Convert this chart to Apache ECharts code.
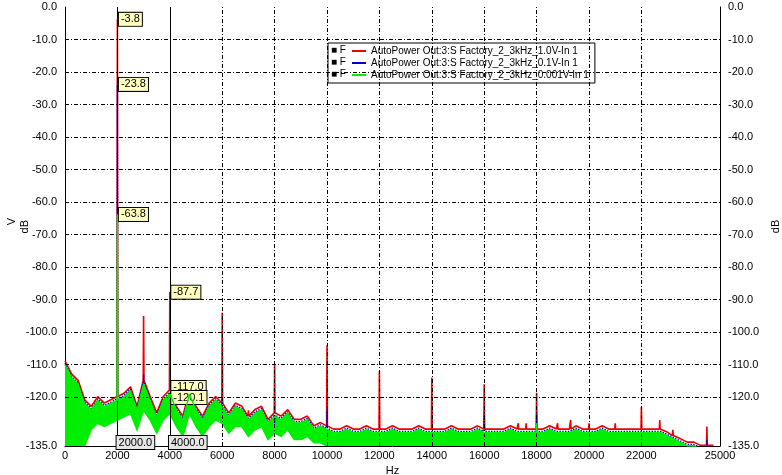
<!DOCTYPE html>
<html><head><meta charset="utf-8">
<script src="https://cdn.jsdelivr.net/npm/echarts@6/dist/echarts.min.js"></script>
<style>html,body{margin:0;padding:0;background:#fff}#c{width:782px;height:475px}</style>
</head><body><div id="c"></div>
<script>
// noise floor frequencies (Hz), step 250
const floorFreq = [];
for (let f = 0; f <= 24750; f += 250) floorFreq.push(f);
// upper edge of the noise band (dB)
const floorUpper = [-110,-114,-116,-122,-124,-121,-123,-122,-121,-120,-118,-124,-116,-121,-126,-121,-119,-124,-127,-119,
 -124,-127,-123,-121,-123,-126,-123,-124,-127,-125,-124,-128,-126,-127,-125,-128,-128,-127,-130,-129,
 -130,-131,-131,-130,-131,-131,-130,-131,-131,-131,-130,-131,-131,-131,-130,-131,-131,-131,-131,-130,
 -131,-131,-131,-130,-131,-131,-131,-131,-130,-131,-131,-131,-131,-131,-130,-131,-131,-131,-130,-131,
 -131,-131,-130,-131,-131,-131,-131,-131,-131,-131,-131,-131,-132,-133,-134,-135,-135,-136,-136,-136];
// lower edge of the noise band (dB)
const floorLower = [-135,-135,-135,-135,-130,-128,-129,-128,-127,-126,-125,-130,-124,-127,-131,-127,-125,-129,-132,-125,
 -129,-132,-129,-127,-128,-131,-129,-129,-132,-130,-129,-133,-131,-132,-130,-133,-133,-132,-134,-134,
 -135,-136,-136,-136,-136,-136,-136,-136,-136,-136,-136,-136,-136,-136,-136,-136,-136,-136,-136,-136,
 -136,-136,-136,-136,-136,-136,-136,-136,-136,-136,-136,-136,-136,-136,-136,-136,-136,-136,-136,-136,
 -136,-136,-136,-136,-136,-136,-136,-136,-136,-136,-136,-136,-136,-136,-136,-136,-136,-136,-136,-136];
// spikes: [freq, peak dB]
const redSpikes = [[2000,-3.8],[3000,-95],[4000,-87.7],[6000,-94],[7000,-124],[8000,-110],[10000,-104],[12000,-112],
 [14000,-114],[16000,-116],[17300,-128],[17600,-128],[18000,-118.6],[18800,-128],[19300,-127],[20000,-128],[21000,-128],
 [22000,-123],[22700,-127],[23200,-130],[24500,-129]];
const blueSpikes = [[2000,-23.8],[3000,-113],[4000,-120],[6000,-120],[8000,-128],[10000,-124],[16000,-125],[18000,-125],[24500,-133]];
const greenSpikes = [[2000,-63.8],[4000,-120.1],[18000,-128]];
const seriesNames = ['AutoPower Out:3:S Factory_2_3kHz_1.0V-In 1','AutoPower Out:3:S Factory_2_3kHz_0.1V-In 1','AutoPower Out:3:S Factory_2_3kHz_0.001V-In 1'];
const seriesColors = ['#ee0000','#0000cc','#00ee00'];
const yTicks = [0,-10,-20,-30,-40,-50,-60,-70,-80,-90,-100,-110,-120,-135];
const xGrid = [2000,4000,6000,8000,10000,12000,14000,16000,18000,20000,22000];
const cursorLabels = [[2000,-3.8],[2000,-23.8],[2000,-63.8],[4000,-87.7],[4000,-117.0],[4000,-120.1]];

function traceWith(spikes, offset){
  const pts = floorFreq.map((f,i)=>[f, floorUpper[i]+offset]);
  spikes.forEach(([f,v])=>{
    const i = Math.round(f/250); const base = floorUpper[Math.min(i,floorUpper.length-1)]+offset;
    pts.push([f-15,base],[f,v],[f+15,base]);
  });
  pts.sort((a,b)=>a[0]-b[0]);
  return pts.map(p=>[p[0],Math.max(p[1],-136)]);
}
const font = 'Liberation Sans';
const chart = echarts.init(document.getElementById('c'));
const yLbl = {fontFamily:font,fontSize:11,color:'#000',formatter:v=>yTicks.includes(v)?v.toFixed(1):''};
const bandData = floorFreq.map((f,i)=>[f,floorUpper[i],floorLower[i]]);
chart.setOption({
  animation:false,
  grid:{left:65,right:62,top:7,bottom:29,outerBoundsMode:'none',containLabel:false},
  xAxis:{type:'value',min:0,max:25000,interval:2000,name:'Hz',nameLocation:'middle',nameGap:18,
    nameTextStyle:{fontFamily:font,fontSize:11,color:'#000'},
    axisLine:{onZero:false,lineStyle:{color:'#000'}},axisTick:{show:false},splitLine:{show:false},
    axisLabel:{fontFamily:font,fontSize:11,color:'#000',margin:4,showMaxLabel:true,formatter:v=>v===24000?'':String(v)}},
  yAxis:[
    {type:'value',min:-135,max:0,interval:5,position:'left',
     axisLine:{show:true,lineStyle:{color:'#000'}},axisTick:{show:false},splitLine:{show:false},axisLabel:yLbl},
    {type:'value',min:-135,max:0,interval:5,position:'right',name:'dB',nameLocation:'middle',nameGap:40,nameRotate:90,
     nameTextStyle:{fontFamily:font,fontSize:11,color:'#000'},
     axisLine:{show:true,lineStyle:{color:'#000'}},axisTick:{show:false},splitLine:{show:false},axisLabel:yLbl}
  ],
  legend:{left:328,top:43,orient:'vertical',itemGap:2,itemWidth:14,itemHeight:2,backgroundColor:'#fff',
    borderColor:'#000',borderWidth:1,padding:[3,6,3,24],
    textStyle:{fontFamily:font,fontSize:10,color:'#000'},
    data:seriesNames.map((n,i)=>({name:n,icon:'rect',itemStyle:{color:seriesColors[i]}}))},
  graphic:[
    ...[0,1,2].map(i=>({type:'text',left:331,top:45+i*12,z:100,style:{text:'■ F',font:'10px Liberation Sans',fill:'#000'}})),
    {type:'text',left:6,top:218,rotation:Math.PI/2,style:{text:'V',font:'11px Liberation Sans',fill:'#000'}},
    {type:'text',left:19,top:220,rotation:Math.PI/2,style:{text:'dB',font:'11px Liberation Sans',fill:'#000'}}
  ],
  series:[
    {name:'grid',type:'line',data:[],silent:true,z:1,
     markLine:{symbol:'none',silent:true,label:{show:false},lineStyle:{color:'#000',type:[4,2,1,2],width:1},
       data:[...yTicks.filter(v=>v!==0&&v!==-135).map(v=>({yAxis:v})),...xGrid.map(v=>({xAxis:v}))]}},
    {name:seriesNames[0],type:'line',data:traceWith(redSpikes,1.2),showSymbol:false,lineStyle:{color:seriesColors[0],width:1.6},itemStyle:{color:seriesColors[0]}},
    {name:seriesNames[1],type:'line',data:traceWith(blueSpikes,0.5),showSymbol:false,lineStyle:{color:seriesColors[1],width:1.4,type:'dotted'},itemStyle:{color:seriesColors[1]}},
    {name:seriesNames[2],type:'custom',z:3,itemStyle:{color:seriesColors[2]},clip:true,
     data:[0],
     renderItem:(params,api)=>{
       const top = bandData.map(d=>api.coord([d[0],d[1]]));
       const bot = bandData.slice().reverse().map(d=>api.coord([d[0],Math.max(d[2],-136)]));
       return {type:'polygon',shape:{points:top.concat(bot)},style:{fill:seriesColors[2],stroke:seriesColors[2],lineWidth:1.5},
         clipPath:{type:'rect',shape:{x:params.coordSys.x,y:params.coordSys.y,width:params.coordSys.width,height:params.coordSys.height}}};
     }},
    {name:'greenSpikes',type:'line',data:traceWith(greenSpikes,0),showSymbol:false,z:5,lineStyle:{color:seriesColors[2],width:1.4},silent:true},
    {name:'cursors',type:'line',data:[],silent:true,z:6,
     markLine:{symbol:'none',silent:true,lineStyle:{color:'#000',type:'solid',width:1},
       label:{show:true,position:'start',distance:-2,fontFamily:font,fontSize:11,color:'#000',backgroundColor:'#e6e6e6',
         borderColor:'#000',borderWidth:1,padding:[1,2],formatter:p=>p.value.toFixed(1),offset:[18,-8]},
       data:[{xAxis:2000},{xAxis:4000}]},
     markPoint:{symbol:'rect',symbolSize:1,
       label:{show:true,position:'right',distance:1,fontFamily:font,fontSize:11,color:'#000',backgroundColor:'#ffffc0',
         borderColor:'#000',borderWidth:1,padding:[1,2],formatter:p=>p.value.toFixed(1)},
       data:cursorLabels.map(([x,y])=>({coord:[x,y],value:y}))}}
  ]
});
</script></body></html>
